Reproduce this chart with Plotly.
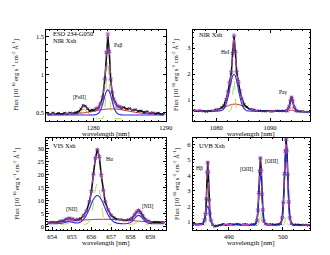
import plotly.graph_objects as go

_ = None

# ---------------- Panel 1: NIR, Pa-beta ----------------
wl1 = [1273.6, 1274.0, 1274.4, 1274.8, 1275.2, 1275.6, 1276.0, 1276.4, 1276.8, 1277.2,
       1277.6, 1278.0, 1278.3, 1278.6, 1278.9, 1279.2, 1279.5, 1279.8, 1280.1, 1280.4,
       1280.7, 1281.0, 1281.3, 1281.6, 1281.8, 1282.0, 1282.2, 1282.4, 1282.6, 1282.8,
       1283.0, 1283.3, 1283.6, 1283.9, 1284.2, 1284.6, 1285.0, 1285.4, 1285.8, 1286.2,
       1286.6, 1287.0, 1287.4, 1287.8, 1288.2, 1288.6, 1289.0, 1289.4, 1289.8]
data1 = [.49, .478, .497, .483, .492, .48, .495, .486, .498, .49,
         .503, .515, .55, .595, .585, .55, .522, .538, .53, .555,
         .56, .625, .70, .95, 1.29, 1.50, 1.31, .93, .77, .675,
         .64, .585, .58, .56, .57, .55, .555, .535, .54, .52,
         .525, .505, .515, .495, .50, .487, .495, .478, .49]
total1 = [.485, .485, .486, .486, .487, .488, .489, .49, .492, .495,
          .498, .512, .546, .585, .58, .545, .53, .53, .537, .547,
          .568, .615, .708, .94, 1.30, 1.54, 1.30, .945, .765, .682,
          .632, .59, .574, .567, .562, .556, .548, .54, .533, .526,
          .519, .512, .506, .50, .496, .492, .489, .487, .485]
blue1 = [.47, .47, .47, .47, .47, .47, .47, .47, .47, .47,
         .47, .47, .47, .47, .47, .47, .47, .47, .471, .475,
         .49, .533, .617, .724, .779, .80, .779, .724, .651, .584,
         .533, .49, .475, .471, .47, .47, .47, .47, .47, .47,
         .47, .47, .47, .47, .47, .47, .47, .47, .47]
red1 = [.48, .48, .48, .48, .48, .481, .481, .482, .483, .485,
        .487, .49, .493, .497, .501, .505, .51, .515, .521, .526,
        .532, .537, .541, .545, .547, .548, .549, .55, .55, .549,
        .548, .546, .542, .538, .533, .526, .519, .512, .505, .499,
        .494, .49, .487, .485, .484, .482, .481, .48, .48]
green1 = [_, _, _, _, _, _, _, _, _, _,
          _, _, _, _, _, _, _, _, _, .42,
          .42, .42, .425, .57, .936, 1.20, .936, .57, .439, .42,
          .42, .42, .42, .42, _, _, _, _, _, _,
          _, _, _, _, _, _, _, _, _]
yellow1 = [_, _, _, _, _, _, _, _, _, _,
           .471, .481, .512, .547, .538, .499, .476, .47, _, _,
           _, _, _, _, _, _, _, _, _, _,
           _, _, _, _, _, _, _, _, _, _,
           _, _, _, _, _, _, _, _, _]

# ---------------- Panel 2: NIR, HeI + Pa-gamma ----------------
wl2 = [1075.8, 1076.4, 1077.0, 1077.6, 1078.2, 1078.8, 1079.4, 1080.0, 1080.5, 1081.0,
       1081.4, 1081.8, 1082.2, 1082.5, 1082.8, 1083.05, 1083.3, 1083.55, 1083.8, 1084.1,
       1084.4, 1084.8, 1085.2, 1085.7, 1086.2, 1086.8, 1087.4, 1088.0, 1088.8, 1089.6,
       1090.4, 1091.2, 1092.0, 1092.6, 1093.1, 1093.5, 1093.8, 1094.0, 1094.2, 1094.5,
       1094.9, 1095.4, 1096.0, 1096.6, 1097.3]
data2 = [.61, .59, .60, .575, .565, .585, .595, .64, .645, .72,
         .79, 1.02, 1.32, 1.70, 2.05, 2.80, 3.45, 2.88, 2.08, 1.72,
         1.35, 1.05, .83, .735, .66, .64, .60, .595, .575, .58,
         .57, .595, .585, .59, .585, .74, .98, 1.12, .97, .73,
         .60, .565, .565, .545, .545]
total2 = [.60, .60, .59, .58, .572, .579, .60, .631, .65, .706,
          .80, 1.0, 1.34, 1.674, 2.09, 2.84, 3.50, 2.847, 2.107, 1.698,
          1.37, 1.033, .838, .724, .67, .63, .606, .592, .584, .572,
          .58, .59, .59, .58, .595, .727, .985, 1.10, .985, .727,
          .59, .57, .56, .55, .54]
blue2 = [.59, .59, .585, .58, .575, .575, .578, .58, .583, .603,
         .665, .825, 1.132, 1.441, 1.748, 1.932, 2.0, 1.932, 1.748, 1.441,
         1.132, .825, .665, .596, .582, .58, .58, .58, .578, .572,
         .575, .58, .58, .578, .593, .722, .918, .978, .918, .722,
         .593, .57, .56, .55, .54]
red2 = [.58, .58, .58, .58, .581, .589, .60, .621, .647, .683,
        .717, .753, .788, .811, .83, .842, .848, .85, .846, .835,
        .818, .788, .753, .708, .668, .63, .606, .592, .584, .58,
        .58, .58, .58, .58, .58, .59, .61, .62, .61, .59,
        .58, .575, .57, .565, .56]
green2 = [_, _, _, _, _, _, _, _, _, _,
          _, _, .58, .582, .673, 1.225, 1.81, 1.225, .673, .582,
          .58, _, _, _, _, _, _, _, _, _,
          _, _, _, _, .578, .618, .796, .878, .796, .618,
          .578, _, _, _, _]

# ---------------- Panel 3: VIS, H-alpha + [NII] ----------------
wl3 = [653.8, 654.0, 654.2, 654.4, 654.55, 654.7, 654.85, 655.0, 655.15, 655.3,
       655.45, 655.6, 655.75, 655.9, 656.0, 656.1, 656.2, 656.3, 656.4, 656.5,
       656.6, 656.7, 656.85, 657.0, 657.15, 657.3, 657.5, 657.7, 657.9, 658.05,
       658.2, 658.3, 658.4, 658.5, 658.6, 658.75, 658.9, 659.1, 659.3, 659.5,
       659.7]
data3 = [1.62, 1.85, 1.78, 2.1, 2.3, 2.95, 3.25, 3.1, 2.65, 2.8,
         3.15, 4.35, 6.1, 9.8, 13.6, 20.3, 26.2, 29.6, 26.9, 19.7,
         14.1, 9.5, 6.5, 4.4, 3.55, 2.9, 2.8, 2.5, 2.75, 3.15,
         4.7, 5.65, 6.35, 5.5, 4.45, 2.75, 2.2, 1.8, 1.85, 1.65,
         1.7]
total3 = [1.745, 1.81, 1.89, 2.04, 2.325, 2.875, 3.31, 3.055, 2.72, 2.755,
          3.22, 4.26, 6.15, 9.6, 13.78, 19.98, 26.54, 29.47, 26.58, 20.06,
          13.89, 9.74, 6.34, 4.49, 3.48, 2.99, 2.71, 2.58, 2.66, 3.21,
          4.58, 5.74, 6.28, 5.63, 4.37, 2.84, 2.13, 1.86, 1.78, 1.72,
          1.67]
blue3 = [1.2, 1.2, 1.204, 1.264, 1.46, 1.804, 2.0, 1.82, 1.527, 1.494,
         1.88, 2.84, 4.57, 7.04, 8.84, 10.46, 11.59, 12.0, 11.59, 10.46,
         8.84, 7.04, 4.57, 2.84, 1.87, 1.43, 1.24, 1.21, 1.4, 2.02,
         3.25, 4.06, 4.4, 4.06, 3.25, 2.02, 1.4, 1.21, 1.2, 1.2,
         1.2]
red3 = [1.745, 1.81, 1.89, 1.977, 2.05, 2.129, 2.21, 2.293, 2.377, 2.461,
        2.543, 2.62, 2.69, 2.76, 2.79, 2.82, 2.85, 2.872, 2.887, 2.897,
        2.90, 2.897, 2.88, 2.85, 2.81, 2.76, 2.67, 2.57, 2.46, 2.377,
        2.293, 2.237, 2.18, 2.128, 2.075, 2.0, 1.932, 1.85, 1.777, 1.716,
        1.665]
green3 = [_, _, _, 1.0, 1.015, 1.142, 1.3, 1.142, 1.015, 1.0,
          _, 1.003, 1.087, 2.0, 4.35, 8.9, 14.3, 16.8, 14.3, 8.9,
          4.35, 2.0, 1.087, 1.003, _, _, _, _, 1.0, 1.015,
          1.24, 1.645, 1.9, 1.645, 1.24, 1.015, 1.0, _, _, _,
          _]

# ---------------- Panel 4: UVB, H-beta + [OIII] ----------------
wl4 = [483.5, 484.1, 484.7, 485.2, 485.5, 485.7, 485.85, 486.0, 486.1, 486.2,
       486.35, 486.5, 486.7, 487.0, 487.4, 487.8, 488.3, 488.9, 489.5, 490.2,
       490.9, 491.6, 492.3, 493.0, 493.7, 494.4, 494.9, 495.2, 495.4, 495.55,
       495.7, 495.85, 496.0, 496.15, 496.3, 496.5, 496.8, 497.3, 497.9, 498.5,
       499.1, 499.6, 499.9, 500.1, 500.3, 500.45, 500.6, 500.75, 500.9, 501.1,
       501.3, 501.6, 502.0, 502.6, 503.3, 504.0, 504.8]
data4 = [.90, .84, .87, .88, 1.15, 1.50, 2.50, 4.15, 4.85, 4.25,
         2.40, 1.58, 1.08, .83, .72, .77, .80, .86, .83, .86,
         .84, .87, .83, .86, .83, .86, .85, 1.10, 1.72, 2.90,
         4.25, 5.12, 4.35, 2.78, 1.80, 1.05, .87, .84, .85, .82,
         .85, .89, 1.30, 2.22, 4.12, 5.55, 6.32, 5.62, 4.02, 2.32,
         1.26, .89, .83, .84, .81, .82, .79]
total4 = [.88, .86, .85, .894, 1.127, 1.552, 2.46, 4.2, 4.8, 4.2,
          2.46, 1.552, 1.10, .844, .74, .76, .82, .84, .85, .84,
          .86, .85, .84, .85, .84, .85, .861, 1.074, 1.768, 2.84,
          4.29, 5.1, 4.29, 2.84, 1.768, 1.074, .861, .85, .84, .83,
          .84, .877, 1.285, 2.274, 4.07, 5.58, 6.29, 5.58, 4.07, 2.274,
          1.285, .877, .84, .83, .82, .81, .80]
blue4 = [.85, .83, .82, .864, 1.096, 1.444, 1.75, 1.97, 2.02, 1.97,
         1.75, 1.444, 1.096, .864, .75, .75, .80, .815, .82, .815,
         .83, .82, .815, .82, .815, .82, .831, 1.044, 1.728, 2.68,
         3.68, 4.12, 3.68, 2.68, 1.728, 1.044, .831, .82, .815, .81,
         .815, .857, 1.265, 2.25, 3.95, 5.17, 5.67, 5.17, 3.95, 2.25,
         1.265, .857, .815, .805, .795, .785, .775]
green4 = [_, _, _, _, .801, .878, 1.48, 3.0, 3.55, 3.0,
          1.48, .878, .801, _, _, _, _, _, _, _,
          _, _, _, _, _, _, _, .80, .81, .928,
          1.376, 1.75, 1.376, .928, .81, .80, _, _, _, _,
          _, _, .80, .804, .903, 1.186, 1.4, 1.186, .903, .804,
          .80, _, _, _, _, _, _]

# ---------------- Axis settings ----------------
x_ranges = [[1273.5, 1290.05], [1075.6, 1097.5], [653.7, 659.8], [483.3, 505.1]]
y_ranges = [[0.39, 1.59], [0.2, 3.7], [-1.2, 34.0], [0.49, 6.4]]
x_dticks = [(10, 1), (10, 2), (1, 0.2), (10, 2)]
y_dticks = [(0.5, 0.1), (1, 0.2), (5, 1), (1, 0.2)]

W, H = 330, 255
def px(x):
    return x / W
def py(y):
    return 1 - y / H

x_domains = [[39, 161], [188, 308], [39, 161], [188, 308]]
y_domains = [[22, 113], [22, 113], [130, 222], [130, 222]]

BLACK = "#111111"
MAG = "#c04ac0"
PURP = "#8a3cb8"
BLUE = "#2b2bea"
RED = "#cc2a2a"
GREEN = "#a6e05a"
YEL = "#cfc21a"

fig = go.Figure()

panels = [
    (wl1, data1, total1, blue1, red1, green1, yellow1),
    (wl2, data2, total2, blue2, red2, green2, None),
    (wl3, data3, total3, blue3, red3, green3, None),
    (wl4, data4, total4, blue4, None, green4, None),
]

for i, (wl, dat, tot, blu, red, grn, yel) in enumerate(panels):
    suf = "" if i == 0 else str(i + 1)
    xa, ya = "x" + suf, "y" + suf
    if red is not None:
        fig.add_trace(go.Scatter(x=wl, y=red, mode="lines", xaxis=xa, yaxis=ya,
                                 line=dict(color=RED, width=1, shape="spline")))
    if yel is not None:
        fig.add_trace(go.Scatter(x=wl, y=yel, mode="lines", xaxis=xa, yaxis=ya,
                                 line=dict(color=YEL, width=1, shape="spline")))
    fig.add_trace(go.Scatter(x=wl, y=grn, mode="lines", xaxis=xa, yaxis=ya,
                             line=dict(color=GREEN, width=1, dash="dash", shape="spline")))
    fig.add_trace(go.Scatter(x=wl, y=dat, mode="lines+markers", xaxis=xa, yaxis=ya,
                             line=dict(color=BLACK, width=1.6),
                             marker=dict(symbol="x-thin", size=2.5, line=dict(color=BLACK, width=0.8))))
    fig.add_trace(go.Scatter(x=wl, y=blu, mode="lines", xaxis=xa, yaxis=ya,
                             line=dict(color=BLUE, width=1.1, shape="spline")))
    # total model: dashed magenta line, star markers shown where narrow lines are fitted
    msize = [4 if g is not None else 0 for g in grn]
    fig.add_trace(go.Scatter(x=wl, y=tot, mode="lines+markers", xaxis=xa, yaxis=ya,
                             line=dict(color=MAG, width=1, dash="dash", shape="spline"),
                             marker=dict(symbol="asterisk", size=msize, color=PURP,
                                         line=dict(color=PURP, width=0.8))))

axis_common = dict(showline=True, linecolor="black", linewidth=0.8, mirror="allticks",
                   ticks="inside", ticklen=3, tickwidth=0.7, tickcolor="black",
                   showgrid=False, zeroline=False,
                   tickfont=dict(family="Liberation Serif", size=6.5, color="black"))

layout = dict(width=W, height=H, margin=dict(l=0, r=0, t=0, b=0),
              paper_bgcolor="white", plot_bgcolor="white", showlegend=False)

for i in range(4):
    suf = "" if i == 0 else str(i + 1)
    xd = x_domains[i]
    yd = y_domains[i]
    layout["xaxis" + suf] = dict(axis_common, domain=[px(xd[0]), px(xd[1])], range=x_ranges[i],
                                 anchor="y" + suf, dtick=x_dticks[i][0], tick0=0,
                                 minor=dict(ticks="inside", ticklen=1.5, tickwidth=0.5,
                                            tickcolor="black", dtick=x_dticks[i][1], tick0=0))
    layout["yaxis" + suf] = dict(axis_common, domain=[py(yd[1]), py(yd[0])], range=y_ranges[i],
                                 anchor="x" + suf, dtick=y_dticks[i][0], tick0=0,
                                 minor=dict(ticks="inside", ticklen=1.5, tickwidth=0.5,
                                            tickcolor="black", dtick=y_dticks[i][1], tick0=0))

fig.update_layout(**layout)

FONT = "Liberation Serif"
ytitle = "Flux [10<sup>-16</sup> erg s<sup>-1</sup> cm<sup>-2</sup> Å<sup>-1</sup>]"
ann = []
def add_text(x, y, text, size=5.5, xanchor="center", angle=0):
    ann.append(dict(x=px(x), y=py(y), xref="paper", yref="paper", text=text, showarrow=False,
                    xanchor=xanchor, yanchor="middle", textangle=angle,
                    font=dict(family=FONT, size=size, color="black")))

for cx in (100, 248):
    add_text(cx, 126, "wavelength [nm]", size=7)
    add_text(cx, 235, "wavelength [nm]", size=7)
for tx in (8, 171):
    add_text(tx, 67, ytitle, size=6.5, angle=-90)
    add_text(tx, 176, ytitle, size=6.5, angle=-90)

add_text(44, 26, "ESO 234-G050", size=6.5, xanchor="left")
add_text(44, 33, "NIR Xsh", size=6.5, xanchor="left")
add_text(113, 37, "Paβ", size=5.5)
add_text(73, 89, "[FeII]", size=5.5)
add_text(192, 27, "NIR Xsh", size=6.5, xanchor="left")
add_text(221, 44, "HeI", size=5.5)
add_text(281, 84, "Paγ", size=5.5)
add_text(44, 137, "VIS Xsh", size=6.5, xanchor="left")
add_text(103, 151, "Hα", size=5.5)
add_text(65, 201, "[NII]", size=5.5)
add_text(142, 198, "[NII]", size=5.5)
add_text(192, 137, "UVB Xsh", size=6.5, xanchor="left")
add_text(195, 160, "Hβ", size=5.5)
add_text(243, 161, "[OIII]", size=5.5)
add_text(268, 153, "[OIII]", size=5.5)

fig.update_layout(annotations=ann)
fig.write_html("out.html")
